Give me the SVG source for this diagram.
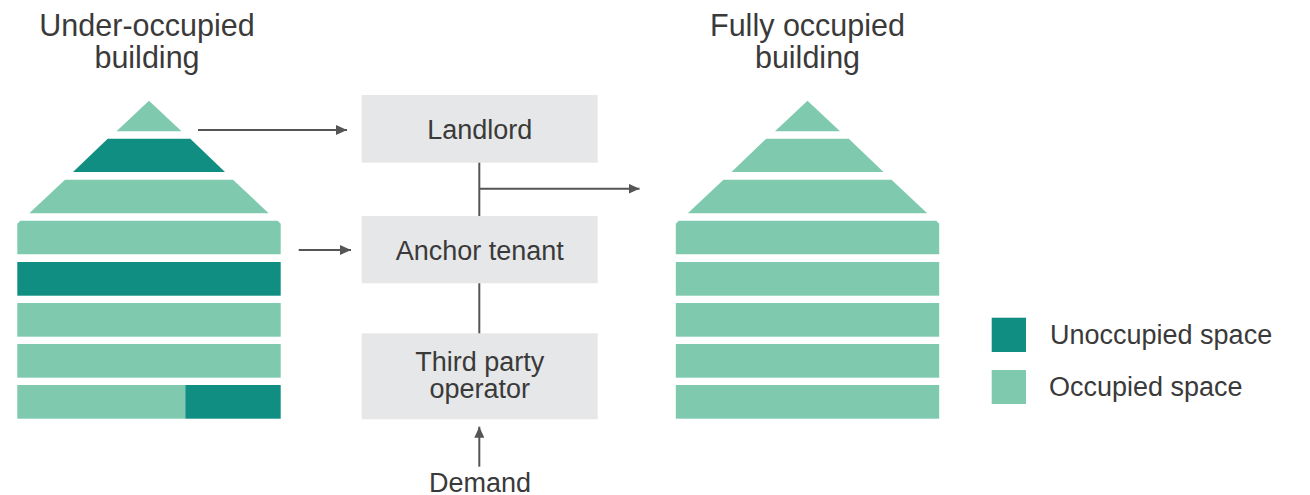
<svg xmlns="http://www.w3.org/2000/svg" width="1310" height="495" viewBox="0 0 1310 495">
<defs>
<style>
.t{font-family:"Liberation Sans",Arial,sans-serif;fill:#3a3a3a;text-anchor:middle}
.title{font-size:30.5px}
.lbl{font-size:27px}
.leg{font-size:27px;text-anchor:start}
.occ{fill:#7fcaae}
.un{fill:#108e82}
.box{fill:#e6e7e8}
.ln{stroke:#555;stroke-width:2;fill:none}
</style>
<marker id="ah" markerUnits="userSpaceOnUse" markerWidth="12" markerHeight="10" refX="11" refY="5" orient="auto">
<path d="M0,0 L11,5 L0,10 Z" fill="#555"/>
</marker>
</defs>
<rect width="1310" height="495" fill="#fff"/>

<g id="title-left">
<text class="t title" x="147" y="36">Under-occupied</text>
<text class="t title" x="147" y="67.5">building</text>
</g>
<g id="title-right">
<text class="t title" x="807.5" y="36">Fully occupied</text>
<text class="t title" x="807.5" y="67.5">building</text>
</g>

<g id="building-under-occupied">
<polygon class="occ" points="149,100.7 181.5,131.3 116.5,131.3"/>
<polygon class="un" points="107.7,138.7 190.3,138.7 225,172 73,172"/>
<polygon class="occ" points="65,179.7 233,179.7 268.7,213.3 29.3,213.3"/>
<polygon class="occ" points="20.3,220.7 277.7,220.7 280.7,223.7 280.7,254.3 17.3,254.3 17.3,223.7"/>
<rect class="un" x="17.3" y="262" width="263.4" height="33.7"/>
<rect class="occ" x="17.3" y="303" width="263.4" height="33.7"/>
<rect class="occ" x="17.3" y="344" width="263.4" height="33.7"/>
<rect class="occ" x="17.3" y="385" width="168" height="33.7"/>
<rect class="un" x="185.3" y="385" width="95.4" height="33.7"/>
</g>

<g id="building-fully-occupied">
<polygon class="occ" points="807.5,100.7 840,131.3 775,131.3"/>
<polygon class="occ" points="766.2,138.7 848.8,138.7 883.5,172 731.5,172"/>
<polygon class="occ" points="723.5,179.7 891.5,179.7 927.2,213.3 687.8,213.3"/>
<polygon class="occ" points="678.8,220.7 936.2,220.7 939.2,223.7 939.2,254.3 675.8,254.3 675.8,223.7"/>
<rect class="occ" x="675.8" y="262" width="263.4" height="33.7"/>
<rect class="occ" x="675.8" y="303" width="263.4" height="33.7"/>
<rect class="occ" x="675.8" y="344" width="263.4" height="33.7"/>
<rect class="occ" x="675.8" y="385" width="263.4" height="33.7"/>
</g>

<g id="landlord">
<rect class="box" x="361.7" y="95" width="236" height="67.7"/>
<text class="t lbl" x="479.7" y="139">Landlord</text>
</g>
<g id="anchor-tenant">
<rect class="box" x="361.7" y="216" width="236" height="67.3"/>
<text class="t lbl" x="479.7" y="259.5">Anchor tenant</text>
</g>
<g id="third-party-operator">
<rect class="box" x="361.7" y="333.3" width="236" height="86"/>
<text class="t lbl" x="479.7" y="371">Third party</text>
<text class="t lbl" x="479.7" y="398">operator</text>
</g>
<g id="demand">
<text class="t lbl" x="480" y="491.5">Demand</text>
</g>

<g id="legend">
<rect class="un" x="991.7" y="317.7" width="34.3" height="34.3"/>
<text class="t leg" x="1050" y="344">Unoccupied space</text>
<rect class="occ" x="991.7" y="370" width="34.3" height="34"/>
<text class="t leg" x="1049" y="396">Occupied space</text>
</g>

<g id="connectors">
<line class="ln" x1="198" y1="130" x2="347" y2="130" marker-end="url(#ah)"/>
<line class="ln" x1="298.7" y1="250" x2="351" y2="250" marker-end="url(#ah)"/>
<line class="ln" x1="479.3" y1="162.7" x2="479.3" y2="216"/>
<line class="ln" x1="479.3" y1="188.7" x2="639.5" y2="188.7" marker-end="url(#ah)"/>
<line class="ln" x1="479.3" y1="283.3" x2="479.3" y2="333.3"/>
<line class="ln" x1="479.3" y1="466.7" x2="479.3" y2="426.7" marker-end="url(#ah)"/>
</g>
</svg>
